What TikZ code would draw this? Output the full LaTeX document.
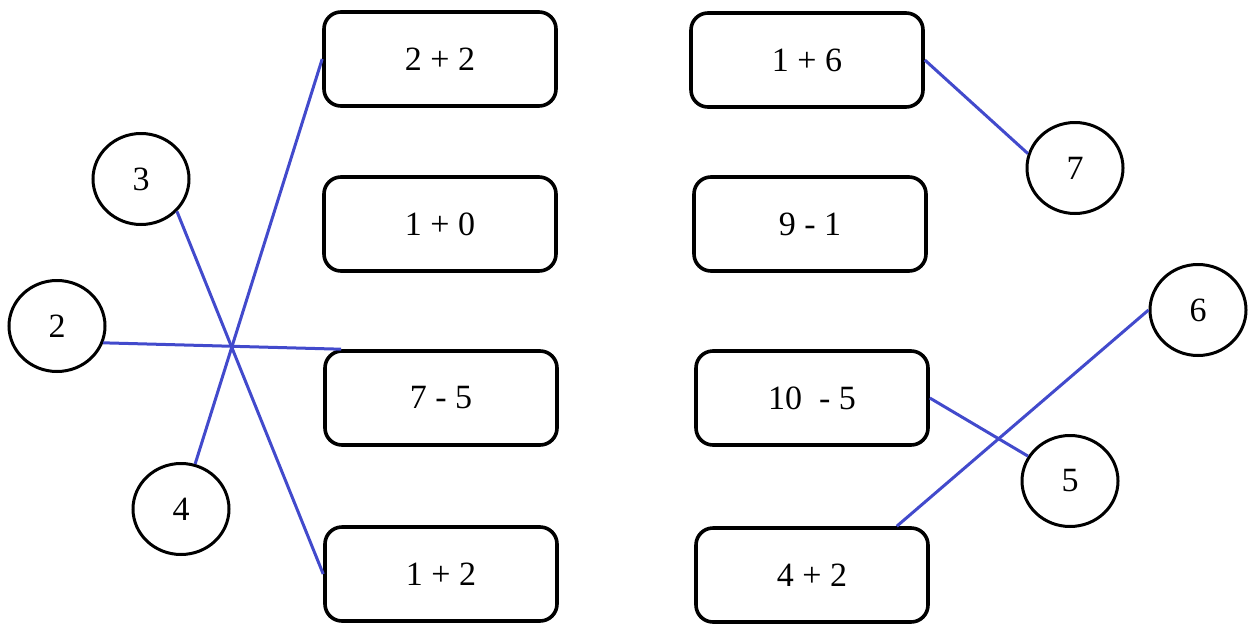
\documentclass[tikz,border=0pt]{standalone}
\usepackage{fontspec}
\setmainfont{Liberation Serif}
\usepackage{xcolor}
\usetikzlibrary{shapes.geometric, positioning, calc}
\definecolor{linkblue}{RGB}{66,74,204}
\tikzset{
  sumbox/.style  = {rectangle, rounded corners=17pt, draw, line width=3.6pt,
                    minimum width=232pt, minimum height=94pt, align=center,
                    font=\fontsize{34}{40}\selectfont},
  answer/.style  = {ellipse, draw, line width=3pt, inner sep=0pt,
                    minimum width=96pt, minimum height=91pt,
                    font=\fontsize{34}{40}\selectfont},
  match/.style   = {draw=linkblue, line width=3pt},
}
\begin{document}
\begin{tikzpicture}[x=1pt, y=-1pt]
  \useasboundingbox (0,0) rectangle (1249,624);

  % left column of sums
  \node[sumbox] (sumA) at (440,59)  {2 + 2};
  \node[sumbox] (sumB) at (440,224) {1 + 0};
  \node[sumbox] (sumC) at (441,398) {7 - 5};
  \node[sumbox] (sumD) at (441,574) {1 + 2};

  % right column of sums
  \node[sumbox] (sumE) at (807,60)  {1 + 6};
  \node[sumbox] (sumF) at (810,224) {9 - 1};
  \node[sumbox] (sumG) at (812,398) {10\ \ - 5};
  \node[sumbox] (sumH) at (812,575) {4 + 2};

  % answers
  \node[answer] (ansThree) at (141,179)  {3};
  \node[answer] (ansTwo)   at (57,326)   {2};
  \node[answer] (ansFour)  at (181,509)  {4};
  \node[answer] (ansSeven) at (1075,168) {7};
  \node[answer] (ansSix)   at (1198,310) {6};
  \node[answer] (ansFive)  at (1070,481) {5};

  \draw[match] (ansThree.-42) -- (sumD.west);
  \draw[match] (ansTwo.-20) -- ([xshift=18pt]sumC.north west);
  \draw[match] (ansFour) -- (sumA.west);
  \draw[match] (sumE.east) -- (ansSeven.163);
  \draw[match] (sumG.east) -- (ansFive);
  \draw[match] ([xshift=-33pt]sumH.north east) -- (ansSix.west);
\end{tikzpicture}
\end{document}
